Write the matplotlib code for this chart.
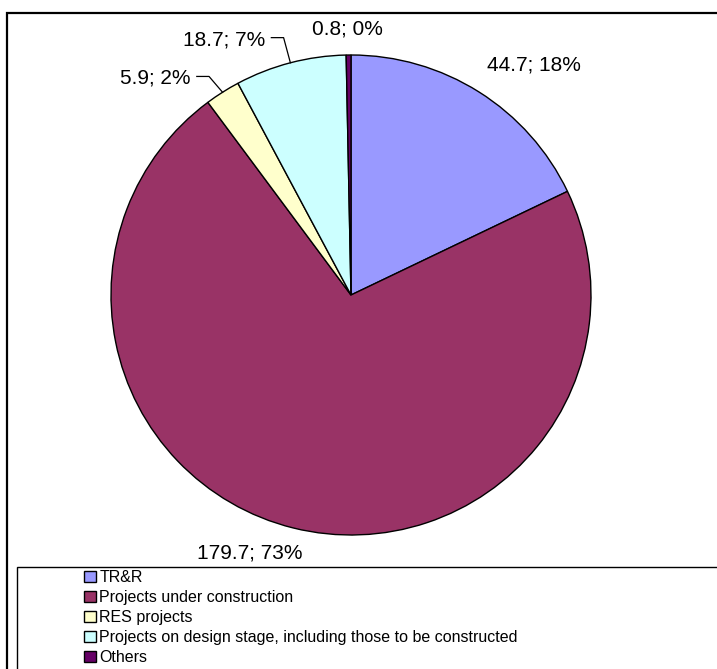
import matplotlib.pyplot as plt
import matplotlib.patches as mpatches
import numpy as np

plt.rcParams['font.family'] = ['Liberation Sans', 'DejaVu Sans']

# data
categories = ['TR&R', 'Projects under construction', 'RES projects',
              'Projects on design stage, including those to be constructed',
              'Others']
values = [44.7, 179.7, 5.9, 18.7, 0.8]
percents = [18, 73, 2, 7, 0]
colors = ['#9999FF', '#993366', '#FFFFCC', '#CCFFFF', '#660066']

W, H = 717, 669
R = 235.0          # pie radius in pixels
cx, cy = 351, 295  # pie centre in pixels (from top-left)

fig = plt.figure(figsize=(W / 100, H / 100), dpi=100)

# outer chart frame, cut off at right and bottom
fig.patches.append(mpatches.Rectangle((7 / W, -0.1), 2, 1 - 12.5 / H + 0.1,
                                      transform=fig.transFigure, fill=False,
                                      edgecolor='black', linewidth=1.6))

# pie axes, 600x600 px square around the centre
half = 300
ax = fig.add_axes([(cx - half) / W, (H - cy - half) / H, 2 * half / W, 2 * half / H])
ax.set_xlim(-half / R, half / R)
ax.set_ylim(-half / R, half / R)
ax.set_aspect('equal')
ax.axis('off')

wedges, _ = ax.pie(values, colors=colors, startangle=90, counterclock=False,
                   radius=1, wedgeprops=dict(edgecolor='black', linewidth=1.0))

labels = ['%.1f; %d%%' % (v, p) for v, p in zip(values, percents)]

# label layout: (dx px, dy px from centre, ha, has leader line)
label_layout = [
    (179, 225, 'center', False),
    (-99, -253, 'center', False),
    (-157, 212, 'right', True),
    (-84, 250, 'right', True),
    (-3, 260, 'center', False),
]
elbows = {2: (-139, 214), 3: (-66, 252)}

for i, (w, lab) in enumerate(zip(wedges, labels)):
    dx, dy, ha, lead = label_layout[i]
    ax.text(dx / R, dy / R, lab, ha=ha, va='center', fontsize=15, clip_on=False)
    if lead:
        mid = np.deg2rad((w.theta1 + w.theta2) / 2)
        ex, ey = elbows[i]
        xs = [np.cos(mid), ex / R, (dx + 6) / R]
        ys = [np.sin(mid), ey / R, ey / R]
        ax.plot(xs, ys, color='black', linewidth=0.9, clip_on=False)

# legend box, cut off at right and bottom
fig.patches.append(mpatches.Rectangle((16.5 / W, -0.1), 2, 1 - 567 / H + 0.1,
                                      transform=fig.transFigure, fill=False,
                                      edgecolor='black', linewidth=1.0))

handles = [mpatches.Patch(facecolor=c, edgecolor='black', linewidth=1.0) for c in colors]
fig.legend(handles, categories, loc='upper left',
           bbox_to_anchor=(84 / W, 1 - 570 / H), frameon=False,
           fontsize=11.5, handlelength=0.75, handleheight=0.7,
           handletextpad=0.2, labelspacing=0.31, borderpad=0, borderaxespad=0)

fig.savefig('out.png', dpi=100)
